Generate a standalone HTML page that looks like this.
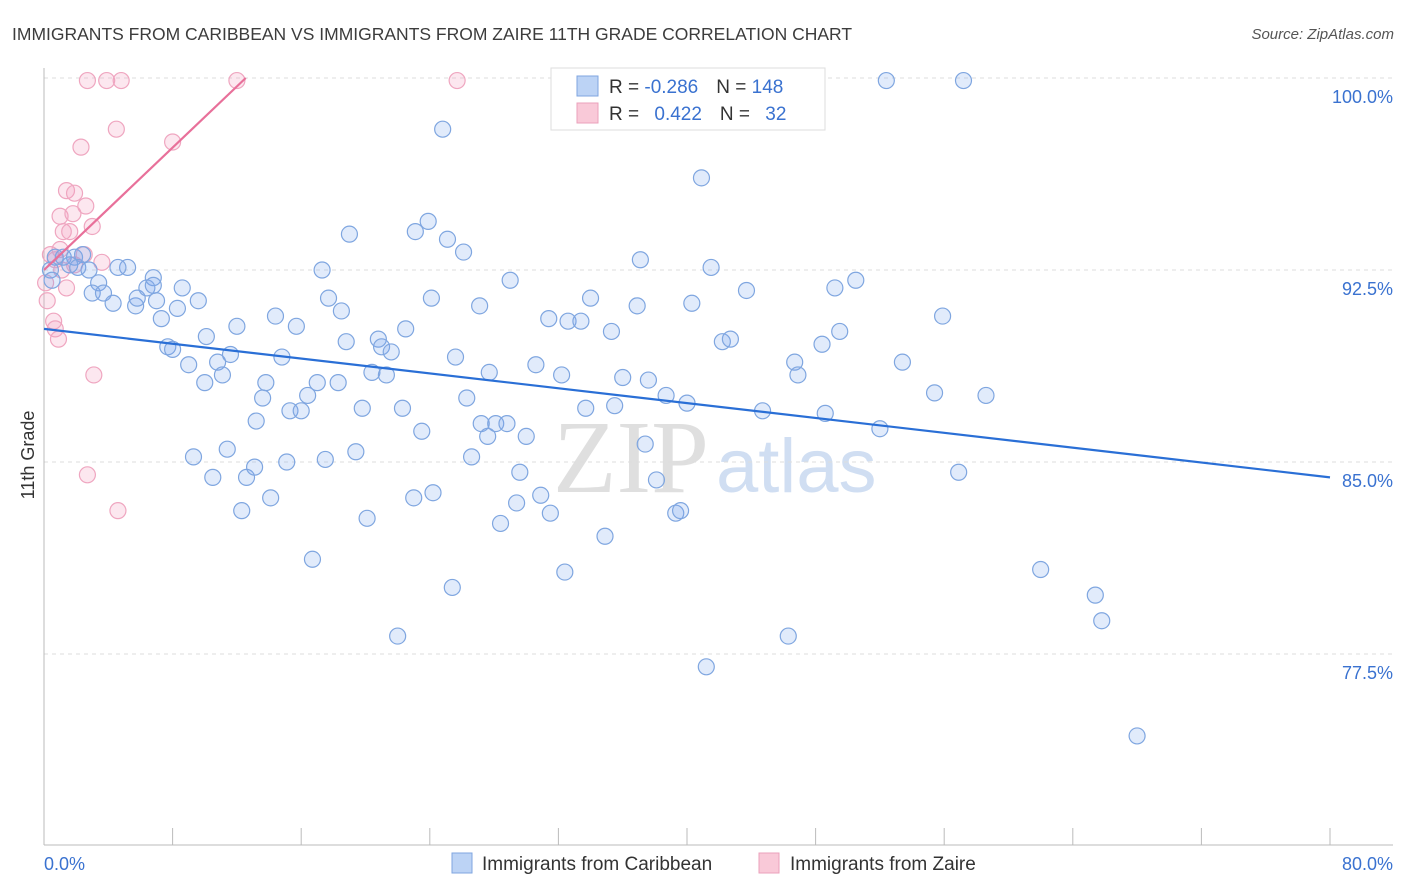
<!DOCTYPE html>
<html><head><meta charset="utf-8">
<style>
body{margin:0;background:#fff;width:1406px;height:892px;overflow:hidden;font-family:"Liberation Sans",sans-serif;}
svg{display:block}
</style></head>
<body>
<svg id="chart" width="1406" height="892" xmlns="http://www.w3.org/2000/svg">
<text x="12" y="40" font-size="17.5" fill="#3c3c3c">IMMIGRANTS FROM CARIBBEAN VS IMMIGRANTS FROM ZAIRE 11TH GRADE CORRELATION CHART</text>
<text x="1394" y="39" font-size="15" fill="#555" font-style="italic" text-anchor="end">Source: ZipAtlas.com</text>
<g>
<text x="553" y="492" font-family="Liberation Serif,serif" font-size="104" fill="#d8d8d8" opacity="0.8">ZIP</text>
<text x="716" y="492" font-size="76" fill="#c5d7f0" opacity="0.8">atlas</text>
</g>
<g id="grid"></g>
<g id="axes"></g>
<g id="marks"></g>
<text transform="translate(34,455) rotate(-90)" font-size="18" fill="#333" text-anchor="middle">11th Grade</text>
<g>
<rect x="551" y="68" width="274" height="62" fill="#fff" stroke="#ddd"/>
<rect x="577" y="76" width="21" height="20" fill="#bcd3f5" stroke="#7fa6e0"/>
<rect x="577" y="103" width="21" height="20" fill="#f9c9d8" stroke="#eba1bb"/>
<text x="609" y="93" font-size="19" fill="#333">R = <tspan fill="#3a72d0">-0.286</tspan><tspan dx="18">N = </tspan><tspan fill="#3a72d0">148</tspan></text>
<text x="609" y="120" font-size="19" fill="#333">R = <tspan dx="10" fill="#3a72d0">0.422</tspan><tspan dx="18">N = </tspan><tspan dx="10" fill="#3a72d0">32</tspan></text>
</g>
<g>
<rect x="452" y="853" width="20" height="20" fill="#bcd3f5" stroke="#7fa6e0"/>
<text x="482" y="870" font-size="19" fill="#333">Immigrants from Caribbean</text>
<rect x="759" y="853" width="20" height="20" fill="#f9c9d8" stroke="#eba1bb"/>
<text x="790" y="870" font-size="19" fill="#333">Immigrants from Zaire</text>
</g>
</svg>
<script>
const yTicks=[100,92.5,85,77.5];
const yTickLabels=["100.0%","92.5%","85.0%","77.5%"];
const xTickCount=10;
const xEndLabels=["0.0%","80.0%"];
const blueX=[52.4,57.2,24.8,40.9,23.9,23.1,19.0,25.1,26.1,5.2,4.6,6.8,3.4,1.2,1.9,2.4,0.7,0.4,0.5,1.6,2.1,2.8,3.0,3.7,4.3,5.7,5.8,6.4,6.8,7.0,7.3,7.7,8.0,8.3,8.6,9.0,9.6,10.0,10.1,10.8,11.1,11.6,12.0,9.3,10.5,11.4,12.3,12.6,13.1,13.2,13.6,13.8,14.1,14.4,14.8,15.1,15.3,15.7,16.0,16.4,17.0,17.3,16.7,17.5,17.7,18.3,18.5,18.8,19.4,19.8,20.1,20.4,20.8,21.0,21.3,21.6,22.0,22.3,22.5,23.0,23.5,24.2,24.1,25.4,25.6,26.3,26.6,27.1,27.2,27.6,27.7,28.1,28.4,28.8,29.0,29.4,29.6,30.0,30.6,30.9,31.4,31.5,32.2,32.4,32.6,33.4,33.7,34.0,34.9,35.3,35.5,36.0,36.9,37.1,37.4,37.6,38.1,38.7,39.3,39.6,40.0,40.3,41.2,41.5,42.2,42.7,43.7,44.7,46.3,46.7,46.9,48.6,48.4,49.2,49.5,50.5,52.0,53.4,55.4,55.9,56.9,58.6,62.0,65.4,65.8,68.0];
const blueY=[99.9,99.9,98.0,96.1,94.4,94.0,93.9,93.7,93.2,92.6,92.6,92.2,92.0,93.0,93.0,93.1,93.0,92.5,92.1,92.7,92.6,92.5,91.6,91.6,91.2,91.1,91.4,91.8,91.9,91.3,90.6,89.5,89.4,91.0,91.8,88.8,91.3,88.1,89.9,88.9,88.4,89.2,90.3,85.2,84.4,85.5,83.1,84.4,84.8,86.6,87.5,88.1,83.6,90.7,89.1,85.0,87.0,90.3,87.0,87.6,88.1,92.5,81.2,85.1,91.4,88.1,90.9,89.7,85.4,87.1,82.8,88.5,89.8,89.5,88.4,89.3,78.2,87.1,90.2,83.6,86.2,83.8,91.4,80.1,89.1,87.5,85.2,91.1,86.5,86.0,88.5,86.5,82.6,86.5,92.1,83.4,84.6,86.0,88.8,83.7,90.6,83.0,88.4,80.7,90.5,90.5,87.1,91.4,82.1,90.1,87.2,88.3,91.1,92.9,85.7,88.2,84.3,87.6,83.0,83.1,87.3,91.2,77.0,92.6,89.7,89.8,91.7,87.0,78.2,88.9,88.4,86.9,89.6,91.8,90.1,92.1,86.3,88.9,87.7,90.7,84.6,87.6,80.8,79.8,78.8,74.3];
const pinkX=[2.7,3.9,4.8,12.0,25.7,4.5,8.0,2.3,1.4,1.9,2.6,1.0,1.8,1.2,1.6,3.0,0.4,0.7,1.1,1.4,0.2,0.6,0.7,0.9,3.1,2.7,4.6,3.6,2.5,1.9,0.1,1.0];
const pinkY=[99.9,99.9,99.9,99.9,99.9,98.0,97.5,97.3,95.6,95.5,95.0,94.6,94.7,94.0,94.0,94.2,93.1,92.9,92.5,91.8,91.3,90.5,90.2,89.8,88.4,84.5,83.1,92.8,93.1,92.7,92.0,93.3];
const blueTrendX=[0,80];
const blueTrendY=[90.2,84.4];
const pinkTrendX=[0,12.55];
const pinkTrendY=[92.5,100];

const NS="http://www.w3.org/2000/svg";
const X0=44,X1=1330,XMAX=80,Y100=78,PXPER=25.6;
function sx(v){return X0+(X1-X0)*v/XMAX;}
function sy(v){return Y100+(100-v)*PXPER;}
function mk(tag,attrs,parent){const e=document.createElementNS(NS,tag);for(const k in attrs)e.setAttribute(k,attrs[k]);parent.appendChild(e);return e;}
const grid=document.getElementById('grid'),axes=document.getElementById('axes'),marks=document.getElementById('marks'),svg=document.getElementById('chart');
yTicks.forEach((t,i)=>{
  const l=mk('line',{x1:X0,x2:1393,y1:sy(t),y2:sy(t),stroke:'#ddd','stroke-dasharray':'4,4'},grid);
  
  
  const tx=mk('text',{x:1393,y:sy(t)+25,'font-size':18,fill:'#3a72d0','text-anchor':'end'},axes);
  tx.textContent=yTickLabels[i];
  
  
});
const ybot=845;
let a=mk('line',{x1:X0,x2:X0,y1:68,y2:ybot,stroke:'#bbb'},axes);


a=mk('line',{x1:X0,x2:1393,y1:ybot,y2:ybot,stroke:'#bbb'},axes);


for(let i=0;i<=xTickCount;i++){
  const v=XMAX*i/xTickCount;
  const t=mk('line',{x1:sx(v),x2:sx(v),y1:828,y2:ybot,stroke:'#bbb'},axes);
  
  
}
let xl=mk('text',{x:X0,y:870,'font-size':18,fill:'#3a72d0'},axes);xl.textContent=xEndLabels[0];


xl=mk('text',{x:1393,y:870,'font-size':18,fill:'#3a72d0','text-anchor':'end'},axes);xl.textContent=xEndLabels[1];


pinkX.forEach((x,i)=>{
  const c=mk('circle',{cx:sx(x),cy:sy(pinkY[i]),r:8,fill:'rgba(244,160,190,0.25)',stroke:'#efa6c0','stroke-width':1.2},marks);
  
  
});
blueX.forEach((x,i)=>{
  const c=mk('circle',{cx:sx(x),cy:sy(blueY[i]),r:8,fill:'rgba(120,165,235,0.22)',stroke:'#7fa6e0','stroke-width':1.2},marks);
  
  
});
let tl=mk('line',{x1:sx(blueTrendX[0]),y1:sy(blueTrendY[0]),x2:sx(blueTrendX[1]),y2:sy(blueTrendY[1]),stroke:'#2a6fd6','stroke-width':2.2},marks);


tl=mk('line',{x1:sx(pinkTrendX[0]),y1:sy(pinkTrendY[0]),x2:sx(pinkTrendX[1]),y2:sy(pinkTrendY[1]),stroke:'#e8709a','stroke-width':2.2},marks);


</script>
</body></html>
